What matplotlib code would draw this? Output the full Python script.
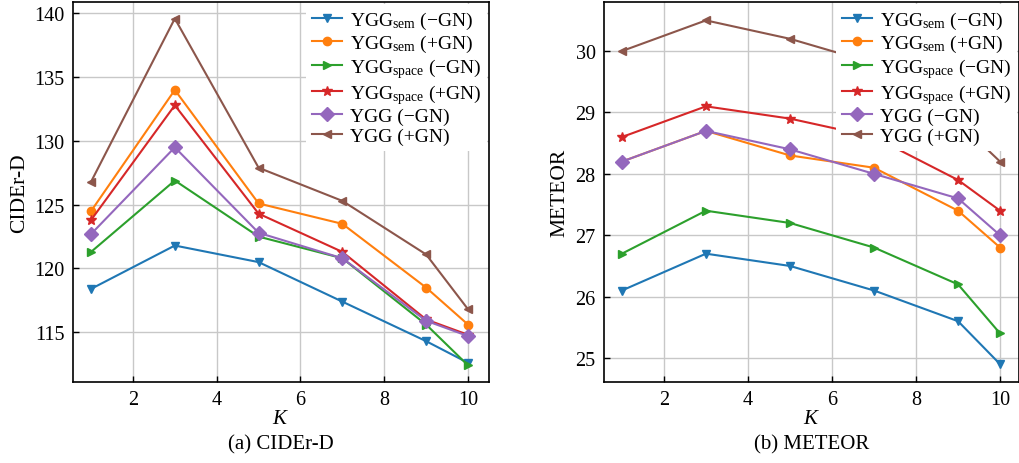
import matplotlib
matplotlib.use("Agg")
import matplotlib.pyplot as plt

plt.rcParams['font.family'] = ['Liberation Serif', 'DejaVu Serif']
plt.rcParams['mathtext.fontset'] = 'custom'
plt.rcParams['mathtext.rm'] = 'Liberation Serif'
plt.rcParams['mathtext.it'] = 'Liberation Serif:italic'
plt.rcParams['font.size'] = 13

K = [1, 3, 5, 7, 9, 10]

labels = [r'YGG$_{\rm sem}$ (−GN)', r'YGG$_{\rm sem}$ (+GN)',
          r'YGG$_{\rm space}$ (−GN)', r'YGG$_{\rm space}$ (+GN)',
          'YGG (−GN)', 'YGG (+GN)']
colors = ['#1f77b4', '#ff7f0e', '#2ca02c', '#d62728', '#9467bd', '#8c564b']
markers = ['v', 'o', '>', '*', 'D', '<']

cider_sem_m = [118.4, 121.8, 120.5, 117.4, 114.3, 112.6]
cider_sem_p = [124.5, 134.0, 125.1, 123.5, 118.5, 115.6]
cider_space_m = [121.3, 126.9, 122.5, 120.8, 115.6, 112.4]
cider_space_p = [123.8, 132.8, 124.3, 121.3, 116.0, 114.8]
cider_ygg_m = [122.7, 129.5, 122.8, 120.8, 115.9, 114.7]
cider_ygg_p = [126.8, 139.6, 127.9, 125.3, 121.1, 116.8]

meteor_sem_m = [26.1, 26.7, 26.5, 26.1, 25.6, 24.9]
meteor_sem_p = [28.2, 28.7, 28.3, 28.1, 27.4, 26.8]
meteor_space_m = [26.7, 27.4, 27.2, 26.8, 26.2, 25.4]
meteor_space_p = [28.6, 29.1, 28.9, 28.6, 27.9, 27.4]
meteor_ygg_m = [28.2, 28.7, 28.4, 28.0, 27.6, 27.0]
meteor_ygg_p = [30.0, 30.5, 30.2, 29.8, 28.85, 28.2]

cider = [cider_sem_m, cider_sem_p, cider_space_m, cider_space_p, cider_ygg_m, cider_ygg_p]
meteor = [meteor_sem_m, meteor_sem_p, meteor_space_m, meteor_space_p, meteor_ygg_m, meteor_ygg_p]

fig = plt.figure(figsize=(10.2, 4.64), dpi=100)
ax1 = fig.add_axes([0.0716, 0.1746, 0.4078, 0.819])
ax2 = fig.add_axes([0.592, 0.1746, 0.407, 0.819])

def draw(ax, data, ylabel, caption, xlim, ylim, yticks):
    for d, lab, c, m in zip(data, labels, colors, markers):
        ms = 7 if m in ('D', '*') else 6
        ax.plot(K, d, color=c, marker=m, label=lab, linewidth=1.5, markersize=ms)
    ax.set_xlim(*xlim)
    ax.set_ylim(*ylim)
    ax.set_xticks([2, 4, 6, 8, 10])
    ax.set_yticks(yticks)
    ax.grid(True, color='#c8c8c8', linewidth=1.0)
    ax.set_axisbelow(True)
    ax.tick_params(direction='in', length=4, width=1, labelsize=14.5, pad=6)
    for s in ax.spines.values():
        s.set_linewidth(1.2)
    ax.set_ylabel(ylabel, fontsize=15.5, labelpad=4)
    ax.set_xlabel('$K$', fontsize=15, labelpad=0)
    ax.text(0.5, -0.163, caption, transform=ax.transAxes, ha='center', va='center', fontsize=15)
    leg = ax.legend(loc='upper right', fontsize=14, handlelength=1.55, handletextpad=0.4,
                    labelspacing=0.1, borderpad=0.3, borderaxespad=0.1,
                    frameon=True, fancybox=False, framealpha=1.0)
    leg.get_frame().set_edgecolor('white')
    leg.get_frame().set_linewidth(0)

draw(ax1, cider, 'CIDEr-D', '(a) CIDEr-D', (0.57, 10.5), (111.1, 140.9), [115, 120, 125, 130, 135, 140])
draw(ax2, meteor, 'METEOR', '(b) METEOR', (0.57, 10.45), (24.61, 30.8), [25, 26, 27, 28, 29, 30])

fig.savefig('out.png', dpi=100)
